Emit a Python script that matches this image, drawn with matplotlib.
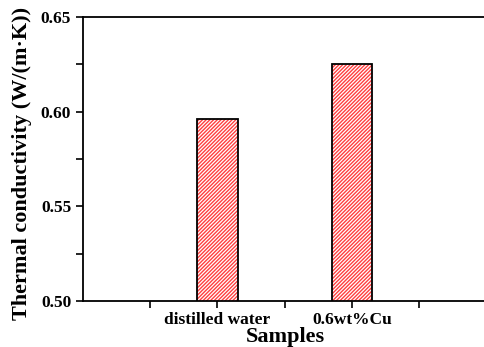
import matplotlib
matplotlib.use("Agg")
import matplotlib.pyplot as plt
from matplotlib.ticker import MultipleLocator, FixedLocator, FormatStrFormatter

samples = ["distilled water", "0.6wt%Cu"]
conductivity = [0.596, 0.625]
positions = [1, 2]

plt.rcParams['font.family'] = ['Liberation Serif', 'DejaVu Serif']
plt.rcParams['font.weight'] = 'bold'
plt.rcParams['hatch.linewidth'] = 1.0

fig = plt.figure(figsize=(4.85, 3.47), dpi=100)
ax = fig.add_axes([0.171, 0.1326, 0.832, 0.8184])

# red hatch fill, then black outline on top
ax.bar(positions, conductivity, width=0.3, color='white', edgecolor='#ff4040',
       linewidth=0, hatch='/////////')
ax.bar(positions, conductivity, width=0.3, fill=False, edgecolor='black',
       linewidth=1.3)

ax.set_xlim(0, 3)
ax.set_ylim(0.50, 0.65)
ax.set_xticks(positions)
ax.set_xticklabels(samples, fontsize=12.5, fontweight='bold')
ax.xaxis.set_minor_locator(FixedLocator([0.5, 1.5, 2.5]))
ax.yaxis.set_major_locator(MultipleLocator(0.05))
ax.yaxis.set_minor_locator(MultipleLocator(0.025))
ax.yaxis.set_major_formatter(FormatStrFormatter('%.2f'))
for lab in ax.get_yticklabels():
    lab.set_fontweight('bold')
    lab.set_fontsize(12.5)

ax.tick_params(which='both', direction='out', length=5, width=1.2)
ax.tick_params(axis='x', which='both', pad=3)
for s in ax.spines.values():
    s.set_linewidth(1.3)
ax.spines['right'].set_visible(False)

ax.set_xlabel("Samples", fontsize=16, fontweight='bold')
ax.xaxis.set_label_coords(0.502, -0.093)
ax.set_ylabel("Thermal conductivity (W/(m\u00b7K))", fontsize=16, fontweight='bold')
ax.yaxis.set_label_coords(-0.127, 0.486)

fig.savefig("out.png", dpi=100)
